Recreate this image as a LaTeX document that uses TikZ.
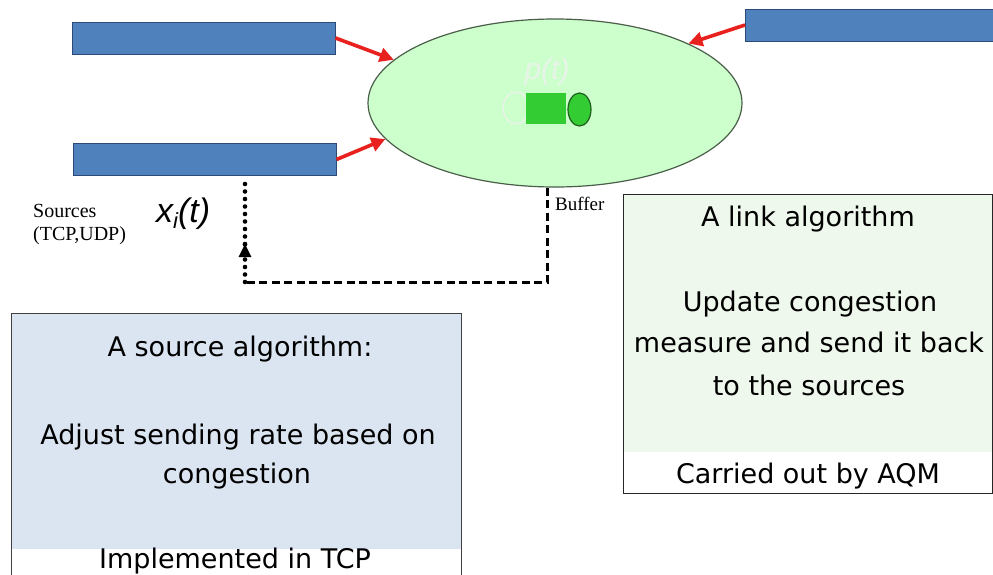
\documentclass[tikz,border=0pt]{standalone}
\usepackage{fontspec}
\setmainfont{Liberation Serif}
\newfontfamily\boxfont{DejaVu Sans}
\newfontfamily\arialfont{Liberation Sans}
\usetikzlibrary{arrows.meta,shapes.geometric}
\definecolor{barblue}{HTML}{4F81BD}
\definecolor{baredge}{HTML}{2C4A75}
\definecolor{linkgreen}{HTML}{CCFFCC}
\definecolor{linkedge}{HTML}{4A5E4A}
\definecolor{bufgreen}{HTML}{33CC33}
\definecolor{bufedge}{HTML}{1E5E1E}
\definecolor{arrred}{HTML}{E8201E}
\definecolor{srcfill}{HTML}{DBE5F1}
\definecolor{lnkfill}{HTML}{EFF8EC}
\definecolor{faint}{HTML}{E8F4E8}
\begin{document}
\begin{tikzpicture}[x=1pt,y=-1pt,
  bar/.style={draw=baredge,fill=barblue,line width=1pt,minimum width=263pt,minimum height=32pt,inner sep=0pt},
  redarrow/.style={draw=arrred,line width=3.6pt,-{Triangle[length=14pt,width=14pt]}},
  boxtext/.style={font=\boxfont\fontsize{27}{32}\selectfont,anchor=base,inner sep=0pt},
  serif/.style={font=\fontsize{20}{23}\selectfont,anchor=base west,inner sep=0pt},
  fb/.style={line width=3pt,black},
  dots/.style={black,line width=4.6pt,line cap=round,dash pattern=on 0pt off 7.5pt},
]
\useasboundingbox (0,0) rectangle (993,574);
% algorithm boxes
\fill[srcfill] (11,313) rectangle (461,549);
\node[draw=black!75,line width=1pt,minimum width=450pt,minimum height=270pt,inner sep=0pt,anchor=north west] (srcbox) at (11,313) {};
\fill[lnkfill] (623,194) rectangle (992,452);
\node[draw=black!85,line width=1pt,minimum width=369pt,minimum height=299pt,inner sep=0pt,anchor=north west] (lnkbox) at (623,194) {};

\node[boxtext] (s1) at (240,356) {A source algorithm:};
\node[boxtext] (s2) at (238,444) {Adjust sending rate based on};
\node[boxtext] (s3) at (237,483) {congestion};
\node[boxtext] (s4) at (235,568) {Implemented in TCP};

\node[boxtext] (l1) at (808,226) {A link algorithm};
\node[boxtext] (l2) at (810,311) {Update congestion};
\node[boxtext] (l3) at (809,352) {measure and send it back};
\node[boxtext] (l4) at (809,395) {to the sources};
\node[boxtext] (l5) at (808,483) {Carried out by AQM};

% sources
\node[bar] (bar1) at (203.5,38) {};
\node[bar] (bar2) at (204.5,159.5) {};
\node[bar,anchor=west] (bar3) at (745,25) {};

% link
\node[ellipse,draw=linkedge,fill=linkgreen,line width=1.2pt,minimum width=374pt,minimum height=168pt,inner sep=0pt] (link) at (555,103) {};
\node[ellipse,draw=faint,line width=1.5pt,minimum width=26pt,minimum height=32pt,inner sep=0pt] (ghost) at (516,108) {};
\node[fill=bufgreen,minimum width=40pt,minimum height=31pt,inner sep=0pt] (bufrect) at (546,108.5) {};
\node[ellipse,draw=bufedge,fill=bufgreen,line width=1.2pt,minimum width=23pt,minimum height=33pt,inner sep=0pt] (bufell) at (579.5,109.5) {};
\node[text=faint,font=\arialfont\itshape\fontsize{30}{30}\selectfont,inner sep=0pt] (pt) at (547,72) {p(t)};

% red arrows
\draw[redarrow] (bar1.east) -- (link.165);
\draw[redarrow] (bar2.east) -- (link.192);
\draw[redarrow] (bar3.west) -- (link.24);

% labels
\node[serif] (src1) at (33,217) {Sources};
\node[serif] (src2) at (33,240) {(TCP,UDP)};
\node[serif,font=\fontsize{19}{22}\selectfont] (buf) at (555,210) {Buffer};
\node[font=\arialfont\itshape\fontsize{34}{34}\selectfont,anchor=base west,inner sep=0pt] (xi) at (156,222) {x\raisebox{-6pt}{\fontsize{22}{22}\selectfont i}(t)};

% feedback path
\coordinate (corner) at (245,282);
\coordinate (arr) at (245,244);
\draw[fb,dash pattern=on 8pt off 4.5pt] (link.-95) -- (link.-95 |- corner) -- (corner);
\draw[dots] (corner) -- (arr);
\draw[dots,shorten >=4pt] (arr) -- (corner |- bar2.south);
\draw[fb,-{Triangle[length=13pt,width=12pt]}] ([yshift=1pt]arr |- 0,258) -- (arr);
\end{tikzpicture}
\end{document}
